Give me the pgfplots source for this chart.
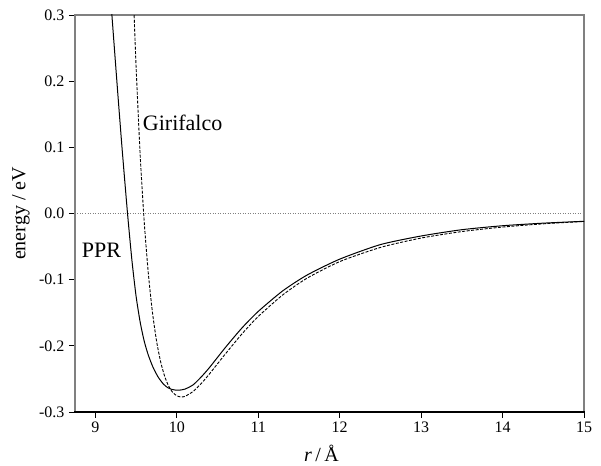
\documentclass[border=0pt]{standalone}
\usepackage{fontspec}
\setmainfont{Liberation Serif}
\usepackage{pgfplots}
\pgfplotsset{compat=1.18}
\begin{document}
\begin{tikzpicture}
\begin{axis}[
  scale only axis,
  width=509pt, height=397pt,
  xmin=8.75, xmax=15,
  ymin=-0.3, ymax=0.3,
  xtick={9,10,11,12,13,14,15},
  ytick={-0.3,-0.2,-0.1,0,0.1,0.2,0.3},
  yticklabels={-0.3,-0.2,-0.1,0.0,0.1,0.2,0.3},
  xticklabels={9,10,11,12,13,14,15},
  tick pos=left,
  tick align=outside,
  major tick length=6pt,
  tick style={black, line width=0.8pt},
  axis line style={draw=gray, line width=1.6pt},
  tick label style={font=\fontsize{16}{18}\selectfont},
  yticklabel style={xshift=-1pt},
  every axis y label/.style={at={(rel axis cs:0,0.5)}, rotate=90, anchor=center, yshift=54pt},
  every axis x label/.style={at={(rel axis cs:0.5,0)}, anchor=base, yshift=-50pt, xshift=-8pt},
  ylabel={\fontsize{20}{24}\selectfont energy / eV},
  xlabel={\fontsize{20}{24}\selectfont \textit{r}\,/\,Å},
]
\addplot[gray, line width=0.6pt, dash pattern=on 1pt off 1.5pt] coordinates {(8.75,0) (15,0)};
\addplot[black, line width=1pt, smooth, tension=0.4] coordinates {
(9.185,0.33) (9.203,0.30) (9.264,0.20) (9.327,0.10) (9.395,0.00) (9.45,-0.072)
(9.50,-0.125) (9.55,-0.164) (9.60,-0.193) (9.65,-0.214) (9.71,-0.233) (9.77,-0.247)
(9.83,-0.257) (9.88,-0.2625) (9.93,-0.2655) (9.98,-0.2668) (10.03,-0.267)
(10.1,-0.2654) (10.2,-0.259) (10.3,-0.247) (10.4,-0.233) (10.6,-0.202)
(10.8,-0.173) (11.0,-0.148) (11.3,-0.117) (11.6,-0.093) (12.0,-0.069)
(12.5,-0.047) (13.0,-0.034) (13.5,-0.0245) (14.0,-0.0185) (14.5,-0.0146) (15.0,-0.0118)
};
\addplot[black, line width=0.9pt, dash pattern=on 3pt off 1.5pt, smooth, tension=0.4] coordinates {
(9.47,0.320) (9.50,0.222) (9.55,0.089) (9.60,-0.0128) (9.65,-0.0901)
(9.70,-0.1484) (9.75,-0.1917) (9.80,-0.2233) (9.85,-0.2457) (9.90,-0.2609)
(9.95,-0.2704) (10.00,-0.2755) (10.05,-0.2773) (10.10,-0.2764) (10.20,-0.2690)
(10.30,-0.2570) (10.40,-0.2426) (10.60,-0.2117) (10.80,-0.1820) (11.00,-0.1557)
(11.30,-0.1231) (11.60,-0.0977) (12.00,-0.0727) (12.50,-0.0513) (13.00,-0.0371)
(13.50,-0.0273) (14.00,-0.0205) (14.50,-0.0156) (15.00,-0.0121)
};
\node[anchor=base west, inner sep=0pt, font=\fontsize{22}{26}\selectfont] at (axis cs:9.582,0.1254) {Girifalco};
\node[anchor=base west, inner sep=0pt, font=\fontsize{22}{26}\selectfont] at (axis cs:8.832,-0.0669) {PPR};
\coordinate (bl) at (rel axis cs:0,0);
\coordinate (tr) at (rel axis cs:1,1);
\end{axis}
\draw[black, line width=1.2pt] ([xshift=-0.8pt]bl) -- ([xshift=0.8pt]bl -| tr);
\path ([shift={(-75pt,-52pt)}]bl) rectangle ([shift={(17pt,15pt)}]tr);
\end{tikzpicture}
\end{document}
